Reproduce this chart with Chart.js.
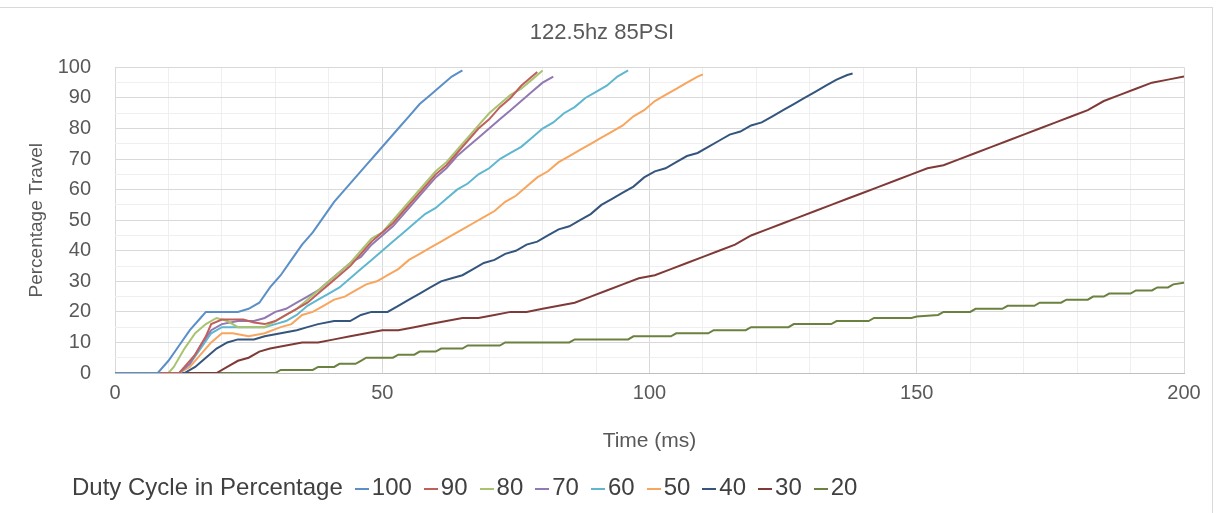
<!DOCTYPE html>
<html>
<head>
<meta charset="utf-8">
<script src="https://cdn.jsdelivr.net/npm/chart.js@4.4.0/dist/chart.umd.min.js"></script>
<style>
  html, body { margin: 0; padding: 0; background: #fff; }
  #wrap { position: relative; width: 1219px; height: 513px; overflow: hidden; }
  #frame { position: absolute; left: -2px; top: 7px; width: 1215px; height: 530px; border: 1px solid #d9d9d9; box-sizing: border-box; }
  #chart { position: absolute; left: 0; top: 0; }
  #legend { position: absolute; left: 72px; top: 473px; font: 24px 'Liberation Sans', Arial, sans-serif; color: #404040; white-space: nowrap; }
  #legend .item { display: inline-block; margin-left: 12px; }
  #legend .swatch { display: inline-block; width: 14px; height: 2px; vertical-align: middle; margin-right: 3px; }
</style>
</head>
<body>
<div id="wrap">
  <div id="frame"></div>
  <canvas id="chart" width="1219" height="513"></canvas>
  <div id="legend"></div>
</div>
<script>
const chartTitle = '122.5hz 85PSI';
const legendTitle = 'Duty Cycle in Percentage';
const seriesLabels = ['100', '90', '80', '70', '60', '50', '40', '30', '20'];
const seriesColors = ['#5b8fc7', '#c0605d', '#a9c46f', '#9179b2', '#5fb7cf', '#f8a55e', '#34557d', '#7f3a38', '#6b8140'];
const xTickLabels = [0, 50, 100, 150, 200];
const yTickLabels = [0, 10, 20, 30, 40, 50, 60, 70, 80, 90, 100];

// [time ms, % travel]
const duty100 = [[0,0],[8,0],[10,4],[12,9],[14,14],[16,18],[17,20],[23,20],[25,21],[27,23],[29,28],[31,32],[33,37],[35,42],[37,46],[39,51],[41,56],[43,60],[45,64],[47,68],[49,72],[51,76],[53,80],[55,84],[57,88],[59,91],[61,94],[63,97],[65,99]];
const duty90 = [[0,0],[12,0],[13,2],[15,6],[17,12],[18,16],[20,17.5],[24,17.5],[26,16.5],[28,16],[30,17],[32,19],[34,21],[36,23],[38,26],[40,29],[42,32],[44,35],[46,39],[48,43],[50,46],[52,49],[54,53],[56,57],[58,61],[60,65],[62,68],[64,72],[66,76],[68,80],[70,83],[72,87],[74,90],[76,94],[78,97],[79,98.5]];
const duty80 = [[0,0],[10,0],[11,2],[13,8],[15,13],[17,16],[19,18],[21,17],[23,15],[26,15],[28,15],[30,17],[32,19],[34,21],[36,24],[38,27],[40,30],[42,33],[44,36],[46,40],[48,44],[50,46],[52,50],[54,54],[56,58],[58,62],[60,66],[62,69],[64,73],[66,77],[68,81],[70,85],[72,88],[74,91],[76,93],[78,96],[80,99]];
const duty70 = [[0,0],[12,0],[14,3],[16,9],[18,14],[20,16],[23,17],[26,17],[28,18],[30,20],[32,21],[34,23],[36,25],[38,27],[40,30],[42,33],[44,36],[46,38],[48,42],[50,45],[52,48],[54,52],[56,56],[58,60],[60,64],[62,67],[64,71],[66,74],[68,77],[70,80],[72,83],[74,86],[76,89],[78,92],[80,95],[82,97]];
const duty60 = [[0,0],[12,0],[14,3],[16,8],[18,13],[20,15],[24,15],[28,15],[30,16],[32,17],[34,19],[36,22],[38,24],[40,26],[42,28],[44,31],[46,34],[48,37],[50,40],[52,43],[54,46],[56,49],[58,52],[60,54],[62,57],[64,60],[66,62],[68,65],[70,67],[72,70],[74,72],[76,74],[78,77],[80,80],[82,82],[84,85],[86,87],[88,90],[90,92],[92,94],[94,97],[96,99]];
const duty50 = [[0,0],[12,0],[14,2],[16,6],[18,10],[20,13],[22,13],[25,12],[28,13],[31,15],[33,16],[35,19],[37,20],[39,22],[41,24],[43,25],[45,27],[47,29],[49,30],[51,32],[53,34],[55,37],[57,39],[59,41],[61,43],[63,45],[65,47],[67,49],[69,51],[71,53],[73,56],[75,58],[77,61],[79,64],[81,66],[83,69],[85,71],[87,73],[89,75],[91,77],[93,79],[95,81],[97,84],[99,86],[101,89],[103,91],[105,93],[107,95],[109,97],[110,97.7]];
const duty40 = [[0,0],[13,0],[15,2],[17,5],[19,8],[21,10],[23,11],[26,11],[28,12],[31,13],[34,14],[36,15],[38,16],[41,17],[44,17],[46,19],[48,20],[51,20],[53,22],[55,24],[57,26],[59,28],[61,30],[63,31],[65,32],[67,34],[69,36],[71,37],[73,39],[75,40],[77,42],[79,43],[81,45],[83,47],[85,48],[87,50],[89,52],[91,55],[93,57],[95,59],[97,61],[99,64],[101,66],[103,67],[105,69],[107,71],[109,72],[111,74],[113,76],[115,78],[117,79],[119,81],[121,82],[123,84],[125,86],[127,88],[129,90],[131,92],[133,94],[135,96],[137,97.5],[138,98]];
const duty30 = [[0,0],[13,0],[19,0],[21,2],[23,4],[25,5],[27,7],[29,8],[32,9],[35,10],[38,10],[41,11],[44,12],[47,13],[50,14],[53,14],[56,15],[59,16],[62,17],[65,18],[68,18],[71,19],[74,20],[77,20],[80,21],[83,22],[86,23],[89,25],[92,27],[95,29],[98,31],[101,32],[104,34],[107,36],[110,38],[113,40],[116,42],[119,45],[122,47],[125,49],[128,51],[131,53],[134,55],[137,57],[140,59],[143,61],[146,63],[149,65],[152,67],[155,68],[158,70],[161,72],[164,74],[167,76],[170,78],[173,80],[176,82],[179,84],[182,86],[185,89],[188,91],[191,93],[194,95],[197,96],[200,97]];
const duty20 = [[0,0],[30,0],[31,1],[37,1],[38,2],[41,2],[42,3],[45,3],[46,4],[47,5],[52,5],[53,6],[56,6],[57,7],[60,7],[61,8],[65,8],[66,9],[72,9],[73,10],[85,10],[86,11],[96,11],[97,12],[104,12],[105,13],[111,13],[112,14],[118,14],[119,15],[126,15],[127,16],[134,16],[135,17],[141,17],[142,18],[149,18],[150,18.5],[154,19],[155,20],[160,20],[161,21],[166,21],[167,22],[172,22],[173,23],[177,23],[178,24],[182,24],[183,25],[185,25],[186,26],[190,26],[191,27],[194,27],[195,28],[197,28],[198,29],[200,29.5]];

const seriesData = [duty100, duty90, duty80, duty70, duty60, duty50, duty40, duty30, duty20];

const fontFamily = "'Liberation Sans', Arial, sans-serif";
const textColor = '#595959';

const datasets = seriesLabels.map((label, i) => ({
    label: label,
    data: seriesData[i],
    borderColor: seriesColors[i],
    backgroundColor: seriesColors[i],
    borderWidth: 2,
    pointRadius: 0,
    showLine: true,
    tension: 0
}));

const chart = new Chart(document.getElementById('chart'), {
    type: 'scatter',
    data: { datasets: datasets },
    options: {
        responsive: false,
        animation: false,
        layout: { padding: { left: 20, right: 35, top: 0, bottom: 46 } },
        plugins: {
            legend: { display: false },
            tooltip: { enabled: false },
            title: {
                display: true,
                text: chartTitle,
                color: textColor,
                font: { family: fontFamily, size: 22, weight: 'normal' },
                padding: { top: 20, bottom: 21 }
            }
        },
        scales: {
            x: {
                type: 'linear',
                min: 0,
                max: 200,
                afterFit: s => { s.height = 94; },
                border: { display: true, color: '#bfbfbf', width: 1 },
                grid: {
                    drawTicks: false,
                    color: ctx => (ctx.tick.value % 50 === 0 ? '#d9d9d9' : '#efefef')
                },
                ticks: {
                    stepSize: 10,
                    autoSkip: false,
                    maxRotation: 0,
                    padding: 8,
                    color: textColor,
                    font: { family: fontFamily, size: 20 },
                    callback: v => (xTickLabels.includes(v) ? String(v) : '')
                },
                title: {
                    display: true,
                    text: 'Time (ms)',
                    color: textColor,
                    font: { family: fontFamily, size: 21 },
                    padding: { top: 0, bottom: 13 }
                }
            },
            y: {
                type: 'linear',
                min: 0,
                max: 100,
                afterFit: s => { s.width = 95; },
                border: { display: false },
                grid: {
                    drawTicks: false,
                    color: ctx => (ctx.tick.value % 10 === 0 ? '#d9d9d9' : '#efefef')
                },
                ticks: {
                    stepSize: 5,
                    autoSkip: false,
                    padding: 24,
                    color: textColor,
                    font: { family: fontFamily, size: 20 },
                    callback: v => (yTickLabels.includes(v) ? String(v) : '')
                },
                title: {
                    display: true,
                    text: 'Percentage Travel',
                    color: textColor,
                    font: { family: fontFamily, size: 19 },
                    padding: { top: 5, bottom: 0 }
                }
            }
        }
    }
});

// legend in html, built from the chart datasets
const legendEl = document.getElementById('legend');
legendEl.appendChild(document.createTextNode(legendTitle));
chart.data.datasets.forEach(ds => {
    const item = document.createElement('span');
    item.className = 'item';
    item.innerHTML = `<span class="swatch" style="background:${ds.borderColor}"></span>${ds.label}`;
    legendEl.appendChild(item);
});
</script>
</body>
</html>
